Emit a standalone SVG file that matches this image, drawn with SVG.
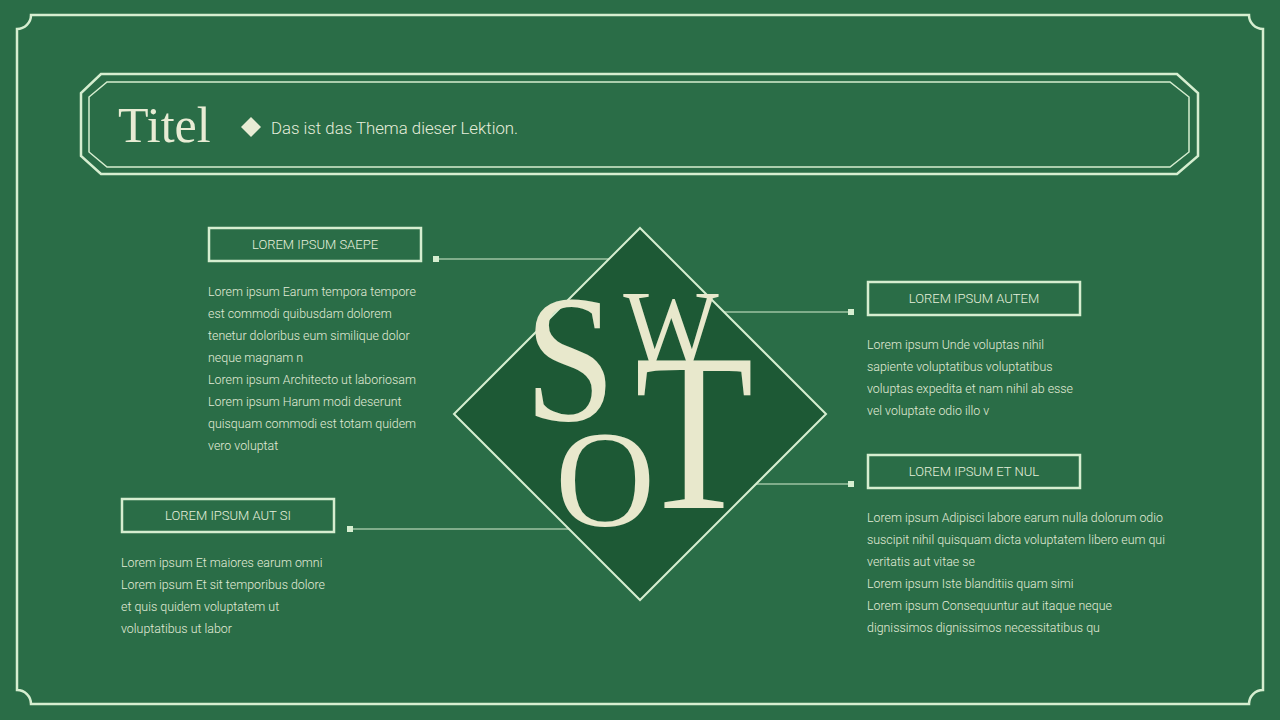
<svg xmlns="http://www.w3.org/2000/svg" width="1280" height="720" viewBox="0 0 1280 720">
<style>
.ln{fill:none;stroke:#d6eed0;}
.box{fill:none;stroke:#d6eed0;stroke-width:2.5;}
.lbl{font-family:Roboto,"Liberation Sans",sans-serif;font-weight:300;font-size:13px;fill:#e6f0dc;text-anchor:middle;}
.body{font-family:Roboto,"Liberation Sans",sans-serif;font-weight:300;font-size:12.4px;fill:#e2ecd8;}
.swot{font-family:"Liberation Serif",serif;fill:#e8e8cc;text-anchor:middle;}
.dot{fill:#d6eed0;}
</style>
<rect width="1280" height="720" fill="#2a6d47"/>
<path class="ln" stroke-width="2.5" d="M31,15 H1249 A14,14 0 0 0 1263,29 V690 A14,14 0 0 0 1249,704 H31 A14,14 0 0 0 17,690 V29 A14,14 0 0 0 31,15 Z"/>
<g id="title">
<polygon class="ln" stroke-width="2.5" points="101,74 1177,74 1198,93 1198,156 1177,174 101,174 81,156 81,93"/>
<polygon class="ln" stroke-width="1.5" points="107,82 1170,82 1189,97 1189,152 1170,167 107,167 89,152 89,97"/>
<text x="118" y="142" font-family="Liberation Serif,serif" font-size="50" fill="#e8ecd4">Titel</text>
<polygon points="251,117 261,127 251,137 241,127" fill="#e8ecd4"/>
<text x="271" y="134" font-family="Roboto,'Liberation Sans',sans-serif" font-weight="300" font-size="16.8" fill="#e6eedc">Das ist das Thema dieser Lektion.</text>
</g>
<g id="connectors">
<line class="ln" stroke-width="1" x1="436" y1="259" x2="609" y2="259"/>
<rect class="dot" x="433" y="256" width="6" height="6"/>
<line class="ln" stroke-width="1" x1="350" y1="529" x2="570" y2="529"/>
<rect class="dot" x="347" y="526" width="6" height="6"/>
<line class="ln" stroke-width="1" x1="724" y1="312" x2="851" y2="312"/>
<rect class="dot" x="848" y="309" width="6" height="6"/>
<line class="ln" stroke-width="1" x1="755" y1="484" x2="851" y2="484"/>
<rect class="dot" x="848" y="481" width="6" height="6"/>
</g>
<g id="swot">
<polygon points="640,228 826,414 640,600 454,414" fill="#1d5935" stroke="#d6eed0" stroke-width="2"/>
<text class="swot" font-size="182" transform="translate(570,420) scale(0.9,1)">S</text>
<text class="swot" font-size="110" transform="translate(671,366) scale(0.92,1)">W</text>
<text class="swot" font-size="224" transform="translate(694,508) scale(0.87,1)">T</text>
<text class="swot" font-size="138" x="605" y="526">O</text>
</g>
<g id="s-node">
<rect class="box" x="209" y="228" width="212" height="33"/>
<text class="lbl" x="315" y="249">LOREM IPSUM SAEPE</text>
<text class="body" x="208" y="296">Lorem ipsum Earum tempora tempore</text>
<text class="body" x="208" y="318">est commodi quibusdam dolorem</text>
<text class="body" x="208" y="340">tenetur doloribus eum similique dolor</text>
<text class="body" x="208" y="362">neque magnam n</text>
<text class="body" x="208" y="384">Lorem ipsum Architecto ut laboriosam</text>
<text class="body" x="208" y="406">Lorem ipsum Harum modi deserunt</text>
<text class="body" x="208" y="428">quisquam commodi est totam quidem</text>
<text class="body" x="208" y="450">vero voluptat</text>
</g>
<g id="w-node">
<rect class="box" x="868" y="282" width="212" height="33"/>
<text class="lbl" x="974" y="303">LOREM IPSUM AUTEM</text>
<text class="body" x="867" y="349">Lorem ipsum Unde voluptas nihil</text>
<text class="body" x="867" y="371">sapiente voluptatibus voluptatibus</text>
<text class="body" x="867" y="393">voluptas expedita et nam nihil ab esse</text>
<text class="body" x="867" y="415">vel voluptate odio illo v</text>
</g>
<g id="t-node">
<rect class="box" x="868" y="455" width="212" height="33"/>
<text class="lbl" x="974" y="476">LOREM IPSUM ET NUL</text>
<text class="body" x="867" y="522">Lorem ipsum Adipisci labore earum nulla dolorum odio</text>
<text class="body" x="867" y="544">suscipit nihil quisquam dicta voluptatem libero eum qui</text>
<text class="body" x="867" y="566">veritatis aut vitae se</text>
<text class="body" x="867" y="588">Lorem ipsum Iste blanditiis quam simi</text>
<text class="body" x="867" y="610">Lorem ipsum Consequuntur aut itaque neque</text>
<text class="body" x="867" y="632">dignissimos dignissimos necessitatibus qu</text>
</g>
<g id="o-node">
<rect class="box" x="122" y="499" width="212" height="33"/>
<text class="lbl" x="228" y="520">LOREM IPSUM AUT SI</text>
<text class="body" x="121" y="567">Lorem ipsum Et maiores earum omni</text>
<text class="body" x="121" y="589">Lorem ipsum Et sit temporibus dolore</text>
<text class="body" x="121" y="611">et quis quidem voluptatem ut</text>
<text class="body" x="121" y="633">voluptatibus ut labor</text>
</g>
</svg>
